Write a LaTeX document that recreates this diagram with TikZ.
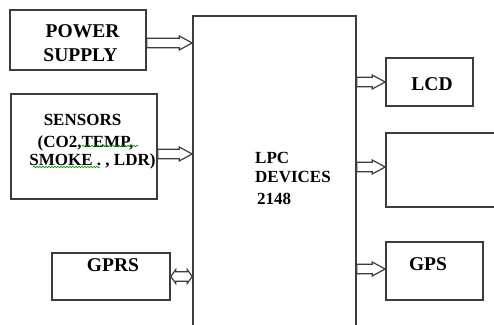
\documentclass[tikz,border=0pt]{standalone}
\usepackage{fontspec}
\setmainfont{Liberation Serif}
\usetikzlibrary{calc,decorations.pathmorphing}
\definecolor{linegray}{HTML}{3C3C3C}
\tikzset{
  blk/.style={draw=linegray, line width=1.6pt, fill=none, inner sep=0pt},
  conn/.style={draw=linegray, line width=1.2pt, fill=white, line join=miter},
  lbl/.style={font=\fontsize{17}{20}\selectfont\bfseries, inner sep=0pt, text=black},
  biglbl/.style={font=\fontsize{19.5}{22}\selectfont\bfseries, inner sep=0pt, text=black},
  spell/.style={draw=green!55!black, line width=0.6pt, decorate,
    decoration={snake, segment length=3pt, amplitude=0.8pt}}
}
% hollow one-headed arrow from #1 to #2 (horizontal), head length #3
\newcommand\hollowarrow[3]{%
  \draw[conn] let \p1=(#1), \p2=(#2) in
    (\x1,\y1+4.8pt) -- (\x2-#3,\y1+4.8pt) -- (\x2-#3,\y1+7pt) -- (\x2,\y1)
    -- (\x2-#3,\y1-7pt) -- (\x2-#3,\y1-4.8pt) -- (\x1,\y1-4.8pt) -- cycle;}
% hollow two-headed arrow from #1 to #2, head length #3
\newcommand\hollowdarrow[3]{%
  \draw[conn] let \p1=(#1), \p2=(#2) in
    (\x1,\y1) -- (\x1+#3,\y1+7pt) -- (\x1+#3,\y1+4.8pt) -- (\x2-#3,\y1+4.8pt)
    -- (\x2-#3,\y1+7pt) -- (\x2,\y1) -- (\x2-#3,\y1-7pt) -- (\x2-#3,\y1-4.8pt)
    -- (\x1+#3,\y1-4.8pt) -- (\x1+#3,\y1-7pt) -- cycle;}
\begin{document}
\begin{tikzpicture}[x=1pt,y=-1pt]
\useasboundingbox (0,0) rectangle (494,324);
% blocks
\node[blk, minimum width=163pt, minimum height=324pt] (main) at (274.5,178) {};
\node[blk, minimum width=136pt, minimum height=60pt] (ps) at (78,40) {};
\node[blk, minimum width=146pt, minimum height=105pt] (sens) at (84,146.5) {};
\node[blk, minimum width=118pt, minimum height=47pt] (gprs) at (111,276.5) {};
\node[blk, minimum width=87pt, minimum height=48pt] (lcd) at (429.5,82) {};
\node[blk, minimum width=134pt, minimum height=74pt] (mid) at (453,170) {};
\node[blk, minimum width=97pt, minimum height=58pt] (gps) at (434.5,271) {};
% texts
\node[biglbl, anchor=base] (t1) at (82.5,37) {POWER};
\node[biglbl, anchor=base] (t2) at (80.5,61) {SUPPLY};
\node[lbl, anchor=base] (t3) at (82.5,125) {SENSORS};
\node[lbl, anchor=base] (t4) at (85.5,147) {(CO2,TEMP,};
\node[lbl, anchor=base] (t5) at (92.5,165) {SMOKE . , LDR)};
\node[biglbl, anchor=base] (t6) at (113,271) {GPRS};
\node[biglbl, anchor=base] (t7) at (432,90) {LCD};
\node[biglbl, anchor=base] (t8) at (428,270) {GPS};
\node[lbl, anchor=base west] (t9) at (255,163) {LPC};
\node[lbl, anchor=base west] (t10) at (255,182) {DEVICES};
\node[lbl, anchor=base west] (t11) at (257,204) {2148};
% spell-check squiggles
\draw[spell] (82,146) -- (138,146);
\draw[spell] (33,167) -- (100,167);
% connectors
\path (ps.east) ++(0,3) coordinate (a1);
\coordinate (b1) at (main.west |- a1);
\hollowarrow{a1}{b1}{13pt}
\path (sens.east) ++(0,7.5) coordinate (a2);
\coordinate (b2) at (main.west |- a2);
\hollowarrow{a2}{b2}{13pt}
\coordinate (a3) at (gprs.east);
\coordinate (b3) at (main.west |- a3);
\hollowdarrow{a3}{b3}{5pt}
\coordinate (a4) at (main.east |- lcd.west);
\hollowarrow{a4}{lcd.west}{13pt}
\path (mid.west) ++(0,-3) coordinate (c5);
\coordinate (a5) at (main.east |- c5);
\hollowarrow{a5}{c5}{13pt}
\path (gps.west) ++(0,-2) coordinate (c6);
\coordinate (a6) at (main.east |- c6);
\hollowarrow{a6}{c6}{13pt}
\end{tikzpicture}
\end{document}
